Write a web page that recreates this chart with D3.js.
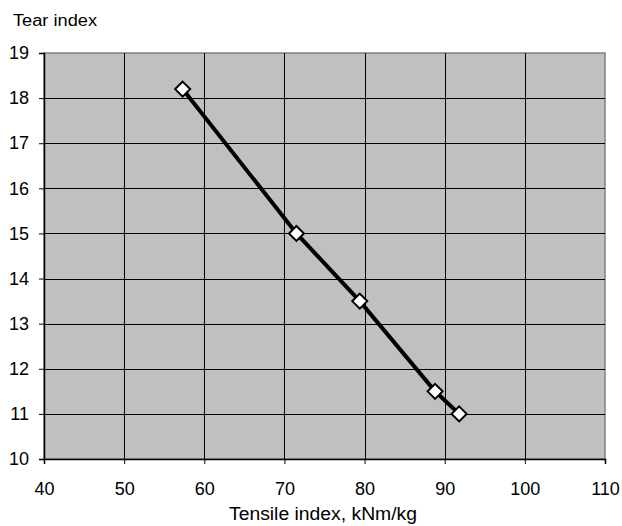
<!DOCTYPE html>
<html lang="en">
<head>
<meta charset="UTF-8">
<title>Tear vs tensile index</title>
<style>
html,body{margin:0;width:622px;height:526px;overflow:hidden;background:#fff;font-family:"Liberation Sans",Arial,Helvetica,sans-serif;}
svg{display:block;}
</style>
</head>
<body>
<svg width="622" height="526"></svg>
<script src="https://d3js.org/d3.v7.min.js"></script>
<script>
const tensile = [57.3, 71.5, 79.4, 88.8, 91.8];
const tear = [18.2, 15.0, 13.5, 11.5, 11.0];
const xTicks = [40, 50, 60, 70, 80, 90, 100, 110];
const yTicks = [10, 11, 12, 13, 14, 15, 16, 17, 18, 19];

const svg = d3.select("svg");
const m = {left:44, top:53, right:605, bottom:459};

const x = d3.scaleLinear().domain([40,110]).range([m.left,m.right]);
const y = d3.scaleLinear().domain([10,19]).range([m.bottom,m.top]);

svg.append("rect")
  .attr("x",m.left).attr("y",m.top)
  .attr("width",m.right-m.left).attr("height",m.bottom-m.top)
  .attr("fill","#c0c0c0").attr("stroke","#808080").attr("stroke-width",1.5);

// gridlines
svg.append("g").selectAll("line").data(yTicks.slice(1,-1)).join("line")
  .attr("x1",m.left).attr("x2",m.right)
  .attr("y1",d=>Math.round(y(d))+.5).attr("y2",d=>Math.round(y(d))+.5)
  .attr("stroke","#000").attr("stroke-width",1);
svg.append("g").selectAll("line").data(xTicks.slice(1,-1)).join("line")
  .attr("y1",m.top).attr("y2",m.bottom)
  .attr("x1",d=>Math.round(x(d))+.5).attr("x2",d=>Math.round(x(d))+.5)
  .attr("stroke","#000").attr("stroke-width",1);

const xAxis = svg.append("g").attr("transform",`translate(0,${m.bottom})`)
  .call(d3.axisBottom(x).tickValues(xTicks).tickSize(5).tickPadding(18));
const yAxis = svg.append("g").attr("transform",`translate(${m.left},0)`)
  .call(d3.axisLeft(y).tickValues(yTicks).tickSize(5).tickPadding(10));
[xAxis,yAxis].forEach(a=>{
  a.select(".domain").attr("stroke","#000").attr("stroke-width",1.5);
  a.selectAll(".tick line").attr("stroke","#000");
  a.selectAll("text").attr("fill","#000").style("font-size","18px").style("font-family","'Liberation Sans',Arial,sans-serif");
});

const pts = tensile.map((v,i)=>[v,tear[i]]);
svg.append("path").datum(pts)
  .attr("d",d3.line().x(d=>x(d[0])).y(d=>y(d[1])))
  .attr("fill","none").attr("stroke","#000").attr("stroke-width",4);

svg.append("g").selectAll("path").data(pts).join("path")
  .attr("transform",d=>`translate(${x(d[0])},${y(d[1])})`)
  .attr("d","M0,-7.5L7.5,0L0,7.5L-7.5,0Z")
  .attr("fill","#fff").attr("stroke","#000").attr("stroke-width",2);

svg.append("text").attr("x",13).attr("y",26)
  .attr("textLength",84).attr("lengthAdjust","spacingAndGlyphs")
  .style("font-size","16px").text("Tear index");
svg.append("text").attr("x",229).attr("y",520)
  .attr("textLength",188).attr("lengthAdjust","spacingAndGlyphs")
  .style("font-size","18px").text("Tensile index, kNm/kg");
</script>
</body>
</html>
